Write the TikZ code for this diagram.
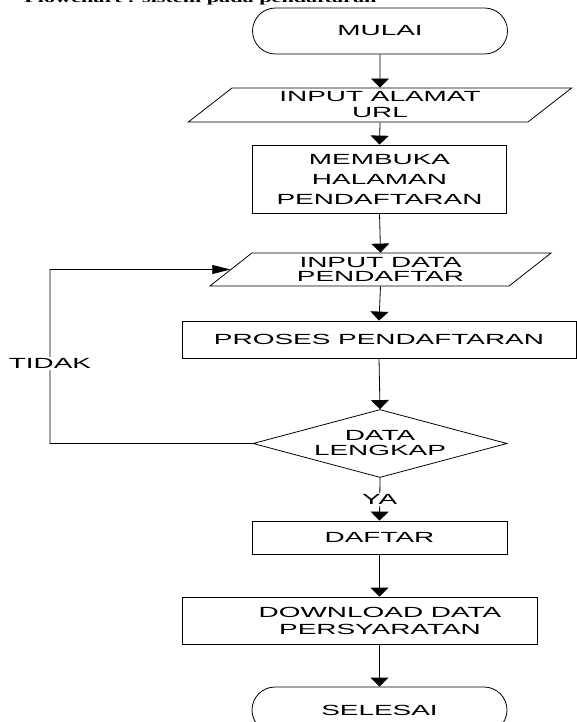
\documentclass[tikz,border=0pt]{standalone}
\usepackage{fontspec}
\usetikzlibrary{shapes.geometric}
\usetikzlibrary{arrows.meta}
\newfontfamily\flowfont[FakeStretch=1.9]{Liberation Sans}
\newfontfamily\capfont[FakeStretch=1.85]{Liberation Serif}

\begin{document}
\begin{tikzpicture}[x=1pt, y=-1pt, line width=0.8pt,
  every node/.style={font=\flowfont\fontsize{14.7}{16}\selectfont, align=center},
  terminal/.style={draw, rounded corners=23pt, minimum width=255pt, minimum height=46pt},
  proc/.style={draw, minimum height=33pt, inner sep=0pt},
  io/.style={draw, trapezium, trapezium stretches=true, trapezium left angle=41.5,
    trapezium right angle=138.5, inner sep=0pt},
  decision/.style={draw, diamond, aspect=3.7, inner sep=0pt, minimum width=254pt, minimum height=68pt},
  lbl/.style={fill=white, inner sep=1.5pt},
  arr/.style={-{Triangle[width=18pt,length=9pt]}}]
\useasboundingbox (0,0) rectangle (576,722);
% judul (terpotong)
\node[anchor=base west, inner sep=0pt, font=\capfont\bfseries\fontsize{12}{14}\selectfont] (judul) at (24,3) {Flowchart : sistem pada pendaftaran};
% simbol
\node[terminal] (mulai) at (380,31) {MULAI};
\node[io, minimum width=384pt, minimum height=34pt] (url) at (380,105) {INPUT ALAMAT\\URL};
\node[proc, minimum width=254pt, minimum height=68pt] (membuka) at (379.5,179) {MEMBUKA\\[4pt]HALAMAN\\[4pt]PENDAFTARAN};
\node[io, minimum width=342pt, minimum height=33pt] (datain) at (380.5,269.5) {INPUT DATA\\[-2pt]PENDAFTAR};
\node[proc, minimum width=394pt, minimum height=37pt] (proses) at (379,339.5) {PROSES PENDAFTARAN};
\node[decision] (lengkap) at (380,443.5) {DATA\\[-1pt]LENGKAP};
\node[proc, minimum width=255pt] (daftar) at (379.5,537.5) {DAFTAR};
\node[proc, minimum width=355pt, minimum height=47pt] (download) at (359.5,620.5) {\hspace*{41pt}DOWNLOAD DATA\\[1pt]\hspace*{41pt}PERSYARATAN};
\node[terminal] (selesai) at (379.5,710) {SELESAI};
\coordinate (balik) at (50,269.5);
% alur
\draw[arr] (mulai.south) -- (url.north);
\draw[arr] (url.south) -- (membuka.north);
\draw[arr] (membuka.south) -- (datain.north);
\draw[arr] (datain.south) -- (proses.north);
\draw[arr] (proses.south) -- (lengkap.north);
\draw[arr] (lengkap.south) -- node[lbl] {YA} (daftar.north);
\draw[arr] (daftar.south) -- (daftar.south |- download.north);
\draw[arr] (download.south -| selesai.north) -- (selesai.north);
\draw[-{Triangle[width=9pt,length=18pt]}] (lengkap.west) -| node[lbl, pos=0.73] {TIDAK} (balik) -- (datain.west);
\end{tikzpicture}
\end{document}
